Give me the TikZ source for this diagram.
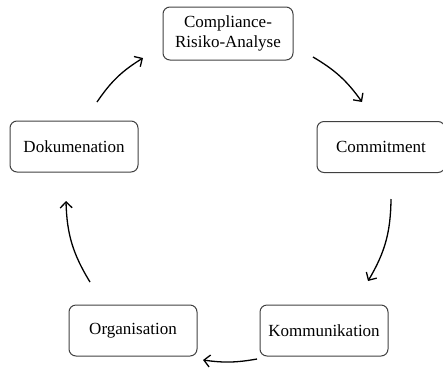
\documentclass[tikz,border=0pt]{standalone}
\usepackage{fontspec}
\setmainfont{Liberation Serif}
\usetikzlibrary{arrows.meta}
\begin{document}
\begin{tikzpicture}[x=1pt,y=-1pt,
  box/.style={draw=black!75, line width=1pt, rounded corners=7pt,
    minimum width=128pt, minimum height=51pt, align=center,
    font=\fontsize{17}{20}\selectfont, inner sep=0pt},
  cyc/.style={-{Straight Barb[length=6pt,width=12pt]}, line width=1.3pt}]
\useasboundingbox (0,0) rectangle (443,367);
\node[box, minimum width=130pt, minimum height=53pt] (top) at (228,33.5) {Compliance-\\Risiko-Analyse};
\node[box] (com) at (381,147) {Commitment};
\node[box] (kom) at (324,330.5) {Kommunikation};
\node[box] (org) at (133,330.5) {Organisation};
\node[box] (dok) at (74,146.5) {Dokumenation};
\coordinate (a1s) at (313,57);  \coordinate (a1e) at (362,102);
\coordinate (a2s) at (391,199); \coordinate (a2e) at (368,281);
\coordinate (a3s) at (257,359); \coordinate (a3e) at (203,360);
\coordinate (a4s) at (90,282);  \coordinate (a4e) at (66,201);
\coordinate (a5s) at (97,102);  \coordinate (a5e) at (143,58);
\draw[cyc] (a1s) to[bend left=12] (a1e);
\draw[cyc] (a2s) to[bend left=15] (a2e);
\draw[cyc] (a3s) to[bend left=9] (a3e);
\draw[cyc] (a4s) to[bend left=15] (a4e);
\draw[cyc] (a5s) to[bend left=12] (a5e);
\end{tikzpicture}
\end{document}
